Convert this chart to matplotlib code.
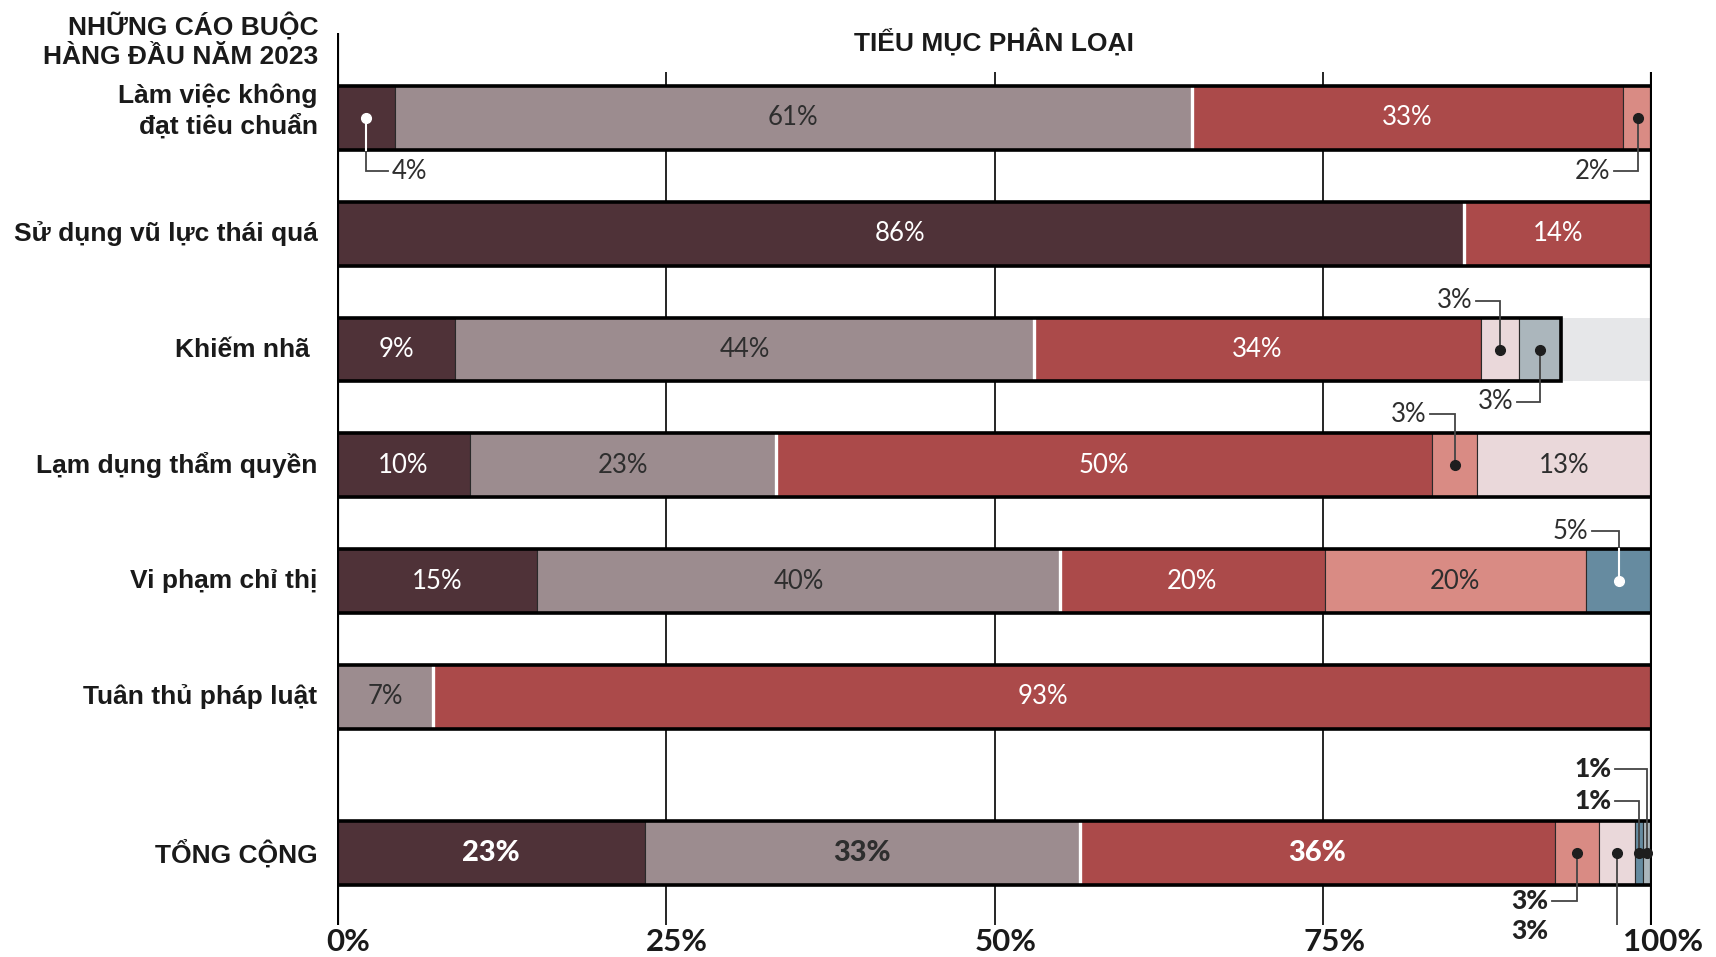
import matplotlib.pyplot as plt

categories = ["Làm việc không\nđạt tiêu chuẩn", "Sử dụng vũ lực thái quá", "Khiếm nhã ",
              "Lạm dụng thẩm quyền", "Vi phạm chỉ thị", "Tuân thủ pháp luật", "TỔNG CỘNG"]
row_pos = [0, 1, 2, 3, 4, 5, 6.35]

# share of each sub-category per row (percent)
s_maroon = [4.4, 85.7, 9.0, 10.1, 15.2, 0, 23.4]
s_mauve = [60.6, 0, 44.0, 23.3, 39.8, 7.3, 33.1]
s_red = [32.8, 14.3, 34.0, 49.9, 20.1, 92.7, 36.1]
s_salmon = [2.2, 0, 0, 3.4, 19.9, 0, 3.4]
s_pink = [0, 0, 2.9, 13.3, 0, 0, 2.7]
s_steel = [0, 0, 0, 0, 5.0, 0, 0.6]
s_grayblue = [0, 0, 3.2, 0, 0, 0, 0.7]
series = [s_maroon, s_mauve, s_red, s_salmon, s_pink, s_steel, s_grayblue]

colors = ["#4f3238", "#9c8c8f", "#ab4a4a", "#d98b84", "#ead8da", "#668ba0", "#abb6bc"]
text_colors = ["white", "#2e2e2e", "white", "#2e2e2e", "#2e2e2e", "white", "#2e2e2e"]

ticks = [0, 25, 50, 75, 100]
tick_labels = ["0%", "25%", "50%", "75%", "100%"]

# (row, series, where the leader line ends, vertical offset, text side, white dot)
callouts = [
    (0, 0, 3.9, 0.46, "left", True),
    (0, 3, 97.1, 0.46, "right", False),
    (2, 4, 86.6, -0.42, "right", False),
    (2, 6, 89.7, 0.45, "right", False),
    (3, 3, 83.1, -0.44, "right", False),
    (4, 5, 95.4, -0.43, "right", True),
    (6, 6, 97.2, -0.73, "right", False),
    (6, 5, 97.2, -0.45, "right", False),
    (6, 3, 92.4, 0.41, "right", False),
    (6, 4, 92.4, 0.67, "right", False),
]

label_font = ["Liberation Sans", "DejaVu Sans"]
num_font = ["Lato", "DejaVu Sans"]

fig = plt.figure(figsize=(17.16, 9.57), dpi=100)
ax = fig.add_axes([337 / 1716, 1 - 925 / 957, 1315 / 1716, 892 / 957])
ax.set_xlim(0, 100)
ax.set_ylim(6.97, -0.734)
ax.axis("off")

bar_h = 0.55
n_rows = len(categories)

# grid lines
ax.vlines([25, 50, 75], -0.397, 6.97, color="black", lw=1.2, zorder=1)
ax.vlines([0], -0.734, 6.97, color="black", lw=3, zorder=6)
ax.vlines([100], -0.397, 6.97, color="black", lw=3, zorder=6)

starts = [[0] * len(series) for _ in range(n_rows)]
for r in range(n_rows):
    y = row_pos[r]
    is_total = r == n_rows - 1
    left = 0
    for k, s in enumerate(series):
        v = s[r]
        starts[r][k] = left
        if v <= 0:
            continue
        ax.barh(y, v, left=left, height=bar_h, color=colors[k], edgecolor="#2a2a2a",
                lw=0.8, zorder=2)
        if k == 2 and left > 0:
            ax.plot([left, left], [y - bar_h / 2, y + bar_h / 2], color="white", lw=2.4,
                    zorder=3, solid_capstyle="butt")
        if v >= 6:
            ax.text(left + v / 2, y, f"{v:.0f}%", ha="center", va="center",
                    color=text_colors[k], fontsize=21 if is_total else 18.5,
                    family=num_font, weight="black" if is_total else "normal", zorder=5)
        left += v
    total = left
    if total < 99.5:
        ax.barh(y, 100 - total, left=total, height=bar_h, color="#e6e7e9", lw=0, zorder=1.5)
    ax.barh(y, total, left=0, height=bar_h, fill=False, edgecolor="black", lw=2.6, zorder=4)

for r, k, lx, dy, side, white_dot in callouts:
    y = row_pos[r]
    v = series[k][r]
    x = starts[r][k] + v / 2
    yl = y + dy
    ax.plot([x, x, lx], [y, yl, yl], color="#444444", lw=1.3, zorder=5,
            solid_joinstyle="miter")
    if white_dot:
        edge = y + bar_h / 2 if dy > 0 else y - bar_h / 2
        ax.plot([x, x], [y, edge], color="white", lw=1.5, zorder=5.5)
    ax.plot(x, y, "o", ms=7, color="white" if white_dot else "#1e1e1e", zorder=6)
    bold = r == n_rows - 1
    txt = f"{max(v, 1):.0f}%"
    if side == "left":
        ax.text(lx + 0.25, yl, txt, ha="left", va="center", fontsize=18.5,
                family=num_font, weight="normal", color="#2e2e2e")
    else:
        ax.text(lx - 0.25, yl, txt, ha="right", va="center",
                fontsize=19 if bold else 18.5, family=num_font,
                weight="black" if bold else "normal", color="#222222" if bold else "#2e2e2e")

# category labels
for r, cat in enumerate(categories):
    shift = 5 if "\n" in cat else 0
    ax.annotate(cat, xy=(0, row_pos[r]), xycoords="data", xytext=(-14, shift),
                textcoords="offset points", ha="right", va="center", fontsize=19,
                family=label_font, weight="bold", color="#1a1a1a", linespacing=1.25)

fig.text(318 / 1716, 1 - 40 / 957, "NHỮNG CÁO BUỘC\nHÀNG ĐẦU NĂM 2023", ha="right",
         va="center", fontsize=19, family=label_font, weight="bold", color="#1a1a1a",
         linespacing=1.3)
fig.text(994 / 1716, 1 - 42 / 957, "TIỂU MỤC PHÂN LOẠI", ha="center", va="center",
         fontsize=19, family=label_font, weight="bold", color="#1a1a1a")

for t, lbl in zip(ticks, tick_labels):
    ax.annotate(lbl, xy=(t, 0), xycoords=("data", "axes fraction"), xytext=(8, -2),
                textcoords="offset points", ha="center", va="top", fontsize=22.5,
                family=num_font, weight="bold", color="#1a1a1a")

fig.savefig("out.png", dpi=100)
